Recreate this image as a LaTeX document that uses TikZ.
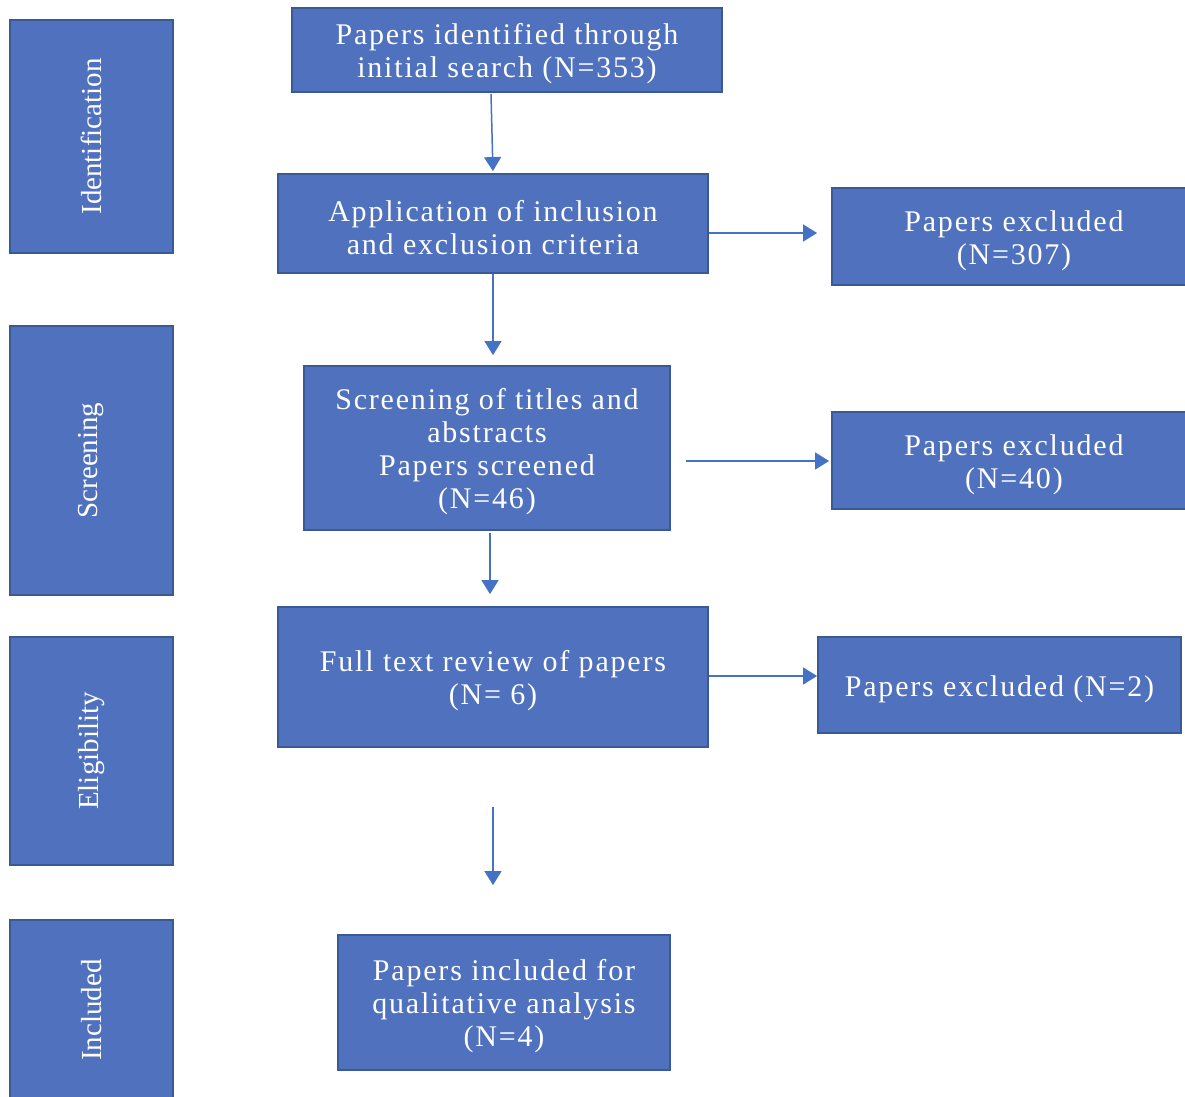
\documentclass[tikz,border=0pt]{standalone}
\usepackage{fontspec}
\setmainfont{Liberation Serif}
\newfontfamily\boxfont[LetterSpace=6]{Liberation Serif}
\usetikzlibrary{arrows.meta}
\definecolor{boxfill}{HTML}{4F71BE}
\definecolor{boxline}{HTML}{3A5A94}
\definecolor{arrowcol}{HTML}{4472C4}
\begin{document}
\begin{tikzpicture}[x=0.5pt,y=-0.5pt,
  box/.style={draw=boxline, line width=0.9pt, fill=boxfill, inner sep=0pt},
  boxtext/.style={text=white, align=center, inner sep=0pt, yshift=-2pt,
    font=\boxfont\fontsize{15}{16.5}\selectfont},
  stagetext/.style={rotate=90, text=white, font=\fontsize{14.5}{16}\selectfont},
  flow/.style={draw=arrowcol, line width=0.75pt,
    -{Triangle[width=8.5pt,length=7pt]}}]
\useasboundingbox (0,0) rectangle (1185,1097);
\begin{scope}
\clip (0,0) rectangle (1185,1097);
% stage labels on the left
\node[box, minimum width=163*0.5pt, minimum height=233*0.5pt] (sid) at (91.5,136.5) {};
\node[stagetext] (sid-t) at (sid.center) {Identification};
\node[box, minimum width=163*0.5pt, minimum height=269*0.5pt] (sscr) at (91.5,460.5) {};
\node[stagetext] (sscr-t) at (sscr.center) {Screening};
\node[box, minimum width=163*0.5pt, minimum height=228*0.5pt] (selig) at (91.5,751) {};
\node[stagetext] (selig-t) at (selig.center) {Eligibility};
\node[box, minimum width=163*0.5pt, minimum height=190*0.5pt] (sinc) at (91.5,1015) {};
\node[stagetext] (sinc-t) at (91.5,1010) {Included};
% main flow
\node[box, minimum width=430*0.5pt, minimum height=84*0.5pt] (ident) at (507,50) {};
\node[boxtext] (ident-t) at (ident.center) {Papers identified through\\initial search (N=353)};
\node[box, minimum width=430*0.5pt, minimum height=99*0.5pt] (crit) at (493,223.5) {};
\node[boxtext] (crit-t) at (crit.center) {Application of inclusion\\and exclusion criteria};
\node[box, minimum width=366*0.5pt, minimum height=164*0.5pt] (scr) at (487,448) {};
\node[boxtext] (scr-t) at (scr.center) {Screening of titles and\\abstracts\\Papers screened\\(N=46)};
\node[box, minimum width=430*0.5pt, minimum height=140*0.5pt] (full) at (493,677) {};
\node[boxtext] (full-t) at (full.center) {Full text review of papers\\(N= 6)};
\node[box, minimum width=332*0.5pt, minimum height=135*0.5pt] (incl) at (504,1002.5) {};
\node[boxtext] (incl-t) at (incl.center) {Papers included for\\qualitative analysis\\(N=4)};
% exclusions
\node[box, minimum width=364*0.5pt, minimum height=97*0.5pt] (ex1) at (1014,236.5) {};
\node[boxtext] (ex1-t) at (ex1.center) {Papers excluded\\(N=307)};
\node[box, minimum width=364*0.5pt, minimum height=97*0.5pt] (ex2) at (1014,460.5) {};
\node[boxtext] (ex2-t) at (ex2.center) {Papers excluded\\(N=40)};
\node[box, minimum width=363*0.5pt, minimum height=96*0.5pt] (ex3) at (999.5,685) {};
\node[boxtext] (ex3-t) at (ex3.center) {Papers excluded (N=2)};
\end{scope}
% connectors
\draw[flow, shorten >=1pt] (ident.south) ++(-16,1) coordinate (a0) -- (crit.north);
\draw[flow, shorten >=14*0.5pt] (crit.east |- 0,233) -- (ex1.west |- 0,233);
\draw[flow, shorten >=10*0.5pt] (crit.south) -- (scr.north -| crit.south);
\draw[flow, shorten <=15*0.5pt, shorten >=2*0.5pt] (scr.east |- 0,461) -- (ex2.west |- 0,461);
\draw[flow, shorten <=2*0.5pt, shorten >=12*0.5pt] (scr.south -| 490,0) -- (full.north -| 490,0);
\draw[flow] (full.east |- 0,676) -- (ex3.west |- 0,676);
\draw[flow, shorten <=59*0.5pt, shorten >=49*0.5pt] (full.south) -- (incl.north -| full.south);
\end{tikzpicture}
\end{document}
